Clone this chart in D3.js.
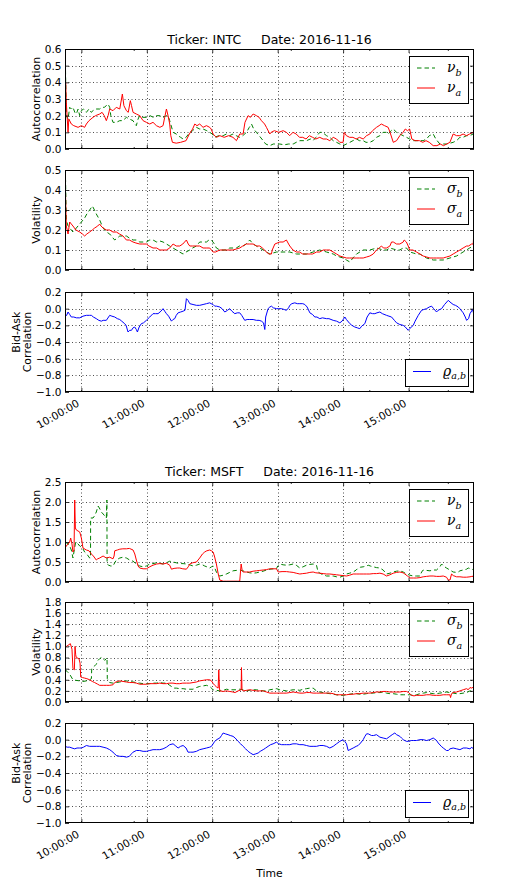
<!DOCTYPE html>
<html>
<head>
<meta charset="utf-8">
<script src="https://cdn.jsdelivr.net/npm/d3@7"></script>
<style>
  body { margin: 0; background: #fff; }
  svg text { font-family: "DejaVu Sans", sans-serif; fill: #000; }
  .math { font-family: "DejaVu Serif", serif; font-style: italic; }
</style>
</head>
<body>
<div id="chart"></div>
<script>
// ---------- data (time = minutes after session start) ----------
const tickers = ["INTC", "MSFT"];
const tradeDate = "2016-11-16";
const sessionStart = "09:45:00";
const sessionEnd = "16:00:00";
const hourTicks = ["10:00:00", "11:00:00", "12:00:00", "13:00:00", "14:00:00", "15:00:00"];
const minorTicks = ["10:48:00", "13:12:00", "14:24:00", "15:36:00"];

const autoTicksIntc = [0, 0.1, 0.2, 0.3, 0.4, 0.5, 0.6];
const volTicksIntc = [0, 0.1, 0.2, 0.3, 0.4, 0.5];
const corrTicks = [-1.0, -0.8, -0.6, -0.4, -0.2, 0.0, 0.2];
const autoTicksMsft = [0, 0.5, 1.0, 1.5, 2.0, 2.5];
const volTicksMsft = [0, 0.2, 0.4, 0.6, 0.8, 1.0, 1.2, 1.4, 1.6, 1.8];

const intcNuA = [[0,0.12],[0.6,0.40],[1.2,0.28],[2.8,0.10],[3.5,0.18],[5.8,0.15],[8,0.14],[12,0.13],[15,0.14],[18,0.13],[19.6,0.15],[22,0.17],[25.7,0.19],[28,0.2],[31.8,0.21],[34,0.22],[36,0.2],[37.9,0.17],[39.5,0.2],[41,0.24],[44,0.23],[47,0.25],[50.2,0.24],[52.6,0.33],[54,0.26],[56.3,0.23],[58,0.22],[59.9,0.29],[61,0.26],[62.4,0.22],[65.4,0.21],[68.5,0.2],[71.6,0.17],[74.6,0.16],[77.7,0.15],[80.7,0.16],[83.8,0.14],[87,0.13],[89.9,0.14],[91.4,0.19],[93,0.24],[94.5,0.2],[96,0.15],[97,0.08],[98.5,0.04],[102,0.035],[106,0.04],[111,0.05],[114,0.09],[117,0.12],[119,0.15],[121,0.14],[123.5,0.15],[126.6,0.13],[129.7,0.14],[132.7,0.13],[134,0.12],[135.8,0.09],[138.8,0.07],[142,0.08],[146,0.07],[150,0.08],[154,0.07],[157.2,0.05],[160.2,0.09],[163.3,0.09],[165,0.16],[167.9,0.2],[170,0.19],[172.5,0.21],[175.5,0.2],[178,0.19],[180.1,0.17],[183,0.15],[184.7,0.13],[187.8,0.09],[189,0.1],[192,0.11],[196,0.1],[200,0.11],[203,0.1],[206,0.08],[209,0.1],[212,0.09],[215,0.07],[218,0.07],[221,0.06],[224,0.08],[227,0.07],[230,0.06],[233.6,0.07],[236.7,0.06],[239.8,0.06],[242.8,0.05],[245.9,0.07],[249,0.06],[252,0.04],[255,0.04],[256,0.1],[258,0.08],[261,0.07],[264,0.07],[267,0.06],[270,0.07],[273.4,0.06],[276.5,0.08],[279.5,0.09],[282,0.11],[285.6,0.13],[288,0.14],[290,0.15],[293,0.14],[296.3,0.13],[298,0.1],[300,0.06],[301,0.04],[304,0.05],[307,0.08],[310,0.1],[312,0.12],[314,0.11],[316,0.12],[318,0.06],[321,0.05],[325,0.05],[328,0.04],[331,0.05],[334,0.04],[337.6,0.02],[341,0.02],[344,0.03],[347,0.02],[350,0.03],[352.9,0.04],[355.9,0.09],[359,0.08],[362,0.08],[365,0.09],[368,0.08],[371,0.09],[374,0.1],[374.6,0.1],[375,0.28]];
const intcNuB = [[0,0.12],[0.4,0.5],[1.2,0.2],[2.8,0.18],[4.3,0.25],[5.8,0.24],[7.3,0.25],[9,0.22],[10.4,0.21],[12,0.24],[13.5,0.2],[15,0.23],[17,0.24],[19.6,0.22],[22,0.24],[24,0.22],[25.7,0.23],[28,0.24],[31.8,0.24],[34,0.25],[36,0.25],[37.9,0.26],[39.4,0.27],[41,0.25],[42,0.2],[44,0.16],[47,0.16],[50.2,0.17],[53,0.17],[56.3,0.19],[59,0.18],[62.4,0.17],[64,0.15],[65.4,0.14],[67,0.18],[68.5,0.2],[71,0.19],[74.6,0.19],[78,0.2],[81,0.19],[84,0.2],[87,0.2],[90,0.19],[93,0.2],[94.5,0.2],[96,0.17],[99.1,0.1],[102,0.09],[103.7,0.08],[106,0.07],[108.3,0.06],[111,0.07],[114.4,0.1],[117,0.11],[120.5,0.13],[123.5,0.12],[126.6,0.12],[130,0.11],[132.7,0.1],[135,0.09],[137.3,0.07],[141,0.08],[145,0.08],[148,0.09],[151,0.08],[154,0.09],[157,0.08],[160.2,0.07],[163,0.08],[166.4,0.1],[169,0.13],[171,0.15],[173,0.12],[175.5,0.1],[178,0.08],[181.7,0.05],[184,0.03],[187.8,0.02],[191,0.03],[196.9,0.03],[201,0.025],[205,0.03],[209.2,0.03],[212,0.04],[215.3,0.05],[219,0.05],[221.4,0.05],[225,0.06],[227.5,0.05],[230,0.07],[233.6,0.1],[236,0.1],[239.8,0.08],[242.8,0.07],[245.9,0.05],[249,0.04],[252,0.03],[255,0.02],[258,0.03],[261.2,0.04],[264,0.05],[267.3,0.06],[270,0.05],[273.4,0.05],[276,0.04],[279.5,0.04],[282.6,0.05],[285.6,0.07],[288.7,0.08],[291.7,0.1],[294.8,0.1],[296.3,0.09],[299,0.11],[300.9,0.12],[304,0.1],[307,0.09],[310,0.08],[313.1,0.07],[316,0.06],[319.3,0.05],[322,0.05],[325.4,0.05],[328.4,0.05],[331.5,0.06],[334,0.08],[337.6,0.09],[340,0.06],[343.7,0.03],[347,0.03],[349.8,0.03],[353,0.035],[355.9,0.04],[359,0.05],[362.1,0.07],[365,0.07],[368.2,0.08],[371,0.08],[374.3,0.09],[375,0.09]];

const intcSigA = [[0,0.2],[0.5,0.38],[1.2,0.22],[2.8,0.18],[4.3,0.24],[5.8,0.23],[7.3,0.22],[10,0.2],[13.5,0.19],[16,0.18],[18,0.17],[20,0.18],[22.6,0.19],[25,0.2],[27.2,0.21],[30,0.22],[31.8,0.23],[33,0.22],[34.9,0.21],[38,0.2],[41,0.2],[44,0.19],[47.1,0.19],[50,0.18],[53.2,0.17],[56.3,0.15],[59,0.15],[62.4,0.14],[65,0.135],[68.5,0.13],[71,0.13],[74.6,0.13],[77,0.12],[80.7,0.11],[84,0.11],[87,0.1],[90,0.1],[93,0.1],[96,0.11],[99.1,0.13],[102,0.12],[105.2,0.12],[108,0.13],[111.3,0.15],[113,0.13],[114.4,0.12],[117,0.12],[120.5,0.12],[123.5,0.12],[126.6,0.11],[130,0.11],[132.7,0.11],[135.8,0.09],[138,0.09],[141.9,0.1],[145,0.1],[148,0.1],[151,0.1],[154.1,0.1],[157,0.105],[160.2,0.11],[163,0.12],[166.4,0.13],[169,0.13],[172.5,0.13],[175.5,0.12],[178.6,0.12],[181,0.11],[184.7,0.09],[187,0.08],[189.3,0.08],[190,0.1],[192.4,0.13],[196.9,0.14],[200,0.14],[203,0.15],[205,0.13],[206.1,0.12],[209,0.1],[212.2,0.09],[215,0.09],[218,0.08],[221.4,0.08],[225,0.08],[227,0.08],[230.6,0.09],[233.6,0.09],[236.7,0.1],[239.8,0.1],[242.8,0.1],[245.9,0.09],[249,0.08],[252,0.07],[255,0.065],[258.1,0.06],[261,0.06],[264.2,0.06],[267,0.06],[270,0.06],[273.4,0.06],[276.5,0.065],[279.5,0.07],[282.6,0.08],[285.6,0.1],[288,0.11],[290.2,0.12],[292,0.11],[294.8,0.11],[297.9,0.12],[299.4,0.14],[301,0.14],[304,0.13],[307,0.13],[310.1,0.14],[311,0.15],[313,0.14],[314.7,0.12],[316,0.1],[319,0.1],[322.3,0.09],[325.4,0.08],[328.4,0.07],[331.5,0.065],[334.6,0.06],[337.6,0.06],[340.7,0.06],[343.7,0.06],[346.8,0.06],[349.8,0.065],[352.9,0.07],[355.9,0.08],[359,0.09],[362.1,0.1],[365,0.11],[368.2,0.12],[370,0.12],[372.8,0.13],[374.3,0.13],[375,0.21]];
const intcSigB = [[0,0.25],[0.5,0.45],[1.2,0.25],[2.8,0.22],[4.3,0.21],[5.8,0.2],[7.3,0.19],[10.4,0.21],[13.5,0.23],[16.5,0.25],[18,0.26],[20,0.28],[22.6,0.3],[25.1,0.32],[27,0.3],[28.7,0.28],[31.8,0.25],[34.9,0.21],[38,0.19],[41,0.18],[44,0.16],[45.6,0.15],[48,0.16],[50.2,0.17],[53,0.17],[56.3,0.17],[59,0.16],[62.4,0.15],[65.4,0.15],[68.5,0.14],[71.6,0.14],[74.6,0.14],[77.7,0.15],[80.7,0.15],[84,0.14],[87,0.145],[89.9,0.14],[93,0.13],[96,0.12],[99,0.11],[102.1,0.1],[105,0.09],[108.3,0.08],[111,0.09],[114.4,0.1],[117,0.11],[120.5,0.12],[123.5,0.14],[126.6,0.14],[129.7,0.14],[132,0.15],[134.3,0.15],[137,0.13],[138.8,0.11],[142,0.1],[145,0.1],[148,0.1],[151,0.11],[154.1,0.11],[157,0.11],[160,0.12],[163.3,0.12],[166,0.13],[169.4,0.15],[172.5,0.13],[175.5,0.12],[178.6,0.11],[181.7,0.1],[184.7,0.09],[187.8,0.08],[190.8,0.085],[193.9,0.09],[196.9,0.09],[200,0.09],[203,0.09],[206.1,0.09],[209,0.085],[212.2,0.08],[215.3,0.08],[218.3,0.08],[221.4,0.08],[224.5,0.085],[227.5,0.09],[230.6,0.095],[233.6,0.1],[236.7,0.095],[239.8,0.09],[242.8,0.085],[245.9,0.08],[249,0.07],[252,0.065],[255,0.06],[258,0.05],[261.2,0.04],[264,0.06],[267.3,0.08],[270.3,0.09],[273.4,0.1],[276.5,0.1],[279.5,0.1],[282.6,0.105],[285.6,0.11],[288.7,0.105],[291.7,0.1],[294.8,0.1],[297.9,0.11],[301,0.105],[304,0.1],[307,0.1],[310.1,0.11],[313.1,0.11],[316.2,0.09],[319.3,0.085],[322.3,0.08],[325.4,0.08],[328.4,0.07],[331.5,0.06],[334.6,0.055],[337.6,0.05],[340.7,0.05],[343.7,0.05],[346.8,0.05],[349.8,0.055],[352.9,0.06],[355.9,0.065],[359,0.07],[362.1,0.08],[365,0.09],[368.2,0.1],[371,0.11],[374.3,0.12],[375,0.12]];

const intcRho = [[0,-0.1],[1.5,-0.08],[2.8,-0.04],[4.3,-0.07],[5.8,-0.1],[8,-0.1],[10.4,-0.11],[13.5,-0.11],[16.5,-0.09],[19.6,-0.08],[22.6,-0.08],[24.2,-0.08],[26,-0.1],[28.7,-0.12],[31,-0.14],[33.3,-0.15],[35,-0.14],[37.9,-0.14],[41,-0.08],[43,-0.09],[45.6,-0.1],[48,-0.12],[50.2,-0.13],[52,-0.15],[54.7,-0.18],[56,-0.2],[57.8,-0.28],[59.3,-0.26],[60.9,-0.26],[62.4,-0.23],[63.9,-0.22],[65.4,-0.25],[66.4,-0.28],[68,-0.22],[70,-0.18],[72,-0.17],[74.6,-0.14],[77.7,-0.1],[80.7,-0.06],[83,-0.06],[85.3,-0.06],[88,-0.03],[89.9,0.0],[91.4,-0.03],[93,-0.06],[95,-0.09],[97.6,-0.15],[99,-0.13],[100.6,-0.12],[102,-0.08],[103.7,-0.05],[106,-0.04],[108.3,-0.03],[110,-0.02],[111.3,0.12],[112.8,0.1],[114.4,0.06],[117.4,0.05],[120.5,0.04],[123.5,0.04],[126.6,0.05],[129.7,0.06],[132.7,0.07],[134,0.06],[135.8,0.05],[137.3,0.03],[139,0.03],[141.9,0.02],[144,0.0],[146.5,-0.04],[149,-0.02],[151,0.0],[153,-0.03],[155.7,-0.06],[158,-0.05],[160.2,-0.05],[162,-0.08],[164.8,-0.14],[167,-0.13],[169.4,-0.13],[172.5,-0.13],[175.5,-0.14],[178,-0.14],[180.1,-0.15],[182,-0.17],[183.2,-0.25],[184,-0.1],[186.2,0.0],[187.8,0.02],[189.3,0.03],[191,0.01],[193.9,0.0],[196,0.0],[198.5,0.0],[201,-0.01],[203,-0.02],[205,0.01],[206.1,0.04],[208,0.06],[210.7,0.07],[213,0.06],[215.3,0.06],[218,0.06],[219.9,0.05],[222,0.02],[224.5,-0.05],[227,-0.07],[229,-0.1],[231,-0.1],[233.6,-0.12],[236,-0.11],[239.8,-0.12],[242,-0.12],[245.9,-0.14],[249,-0.15],[252,-0.17],[254,-0.15],[256.6,-0.1],[258,-0.13],[261.2,-0.18],[263,-0.2],[265.7,-0.22],[268,-0.23],[270.3,-0.24],[272,-0.21],[274.9,-0.18],[277,-0.1],[279.5,-0.05],[282,-0.06],[284.1,-0.06],[286,-0.05],[288.7,-0.04],[291,-0.06],[294.8,-0.08],[297,-0.09],[299.4,-0.1],[302,-0.14],[304,-0.17],[307,-0.19],[310.1,-0.2],[312,-0.22],[314.7,-0.26],[316,-0.24],[319.3,-0.2],[321,-0.15],[323.9,-0.08],[326.9,-0.02],[329,-0.01],[331.5,0.0],[334,0.02],[336.1,0.03],[338,0.0],[340.7,-0.04],[342,-0.02],[345.3,0.0],[348,0.05],[351.4,0.1],[353,0.08],[355.9,0.05],[358,0.04],[360.6,0.02],[362,0.0],[365.1,-0.05],[367,-0.1],[368.2,-0.14],[370,-0.12],[371.3,-0.06],[373.7,-0.01],[374.5,-0.05],[375,-0.12]];

const msftNuA = [[0,0.85],[1.2,0.9],[2.8,0.95],[4.3,1.0],[5.2,1.1],[6.4,0.95],[7.3,0.75],[8.3,0.8],[8.9,2.05],[9.5,1.35],[10.4,1.3],[13.5,1.25],[15,1.1],[16.5,0.85],[19.6,0.8],[22,0.78],[24.2,0.7],[26,0.65],[28.7,0.55],[30,0.58],[31.8,0.6],[34.9,0.65],[37.9,0.6],[41,0.62],[44,0.58],[45,0.65],[45.6,0.78],[48,0.8],[50.2,0.82],[53,0.83],[56.3,0.83],[59,0.84],[62.4,0.8],[64,0.7],[65.4,0.55],[67,0.4],[68.5,0.35],[71.6,0.33],[74.6,0.33],[77.7,0.38],[80.7,0.42],[84,0.45],[87,0.46],[89.9,0.45],[93,0.47],[96,0.42],[97.6,0.32],[100,0.34],[103,0.35],[105.2,0.35],[108,0.33],[111.3,0.32],[113,0.38],[114.4,0.45],[117,0.48],[120.5,0.5],[123.5,0.6],[126,0.7],[128.1,0.75],[130,0.78],[132.7,0.8],[134.3,0.78],[135.8,0.75],[137,0.65],[138.8,0.45],[140.5,0.2],[141.9,0.05],[145,0.02],[148,0.02],[154.1,0.02],[158,0.02],[160.2,0.02],[161.5,0.45],[162.5,0.28],[163.3,0.25],[166,0.25],[169.4,0.25],[172.5,0.27],[175.5,0.28],[178.6,0.29],[181.7,0.3],[184.7,0.31],[187.8,0.33],[190.8,0.33],[193.9,0.33],[195.5,0.25],[199,0.26],[203,0.26],[206,0.25],[209.2,0.24],[212,0.22],[215.3,0.2],[218,0.21],[221.4,0.22],[224.5,0.24],[227.5,0.25],[230,0.23],[233.6,0.22],[236.7,0.21],[239.8,0.2],[242.8,0.2],[245.9,0.19],[249,0.18],[252,0.17],[255,0.16],[258.1,0.15],[261,0.17],[264.2,0.2],[267,0.2],[270.3,0.2],[273.4,0.2],[276.5,0.2],[279.5,0.2],[282.6,0.21],[285.6,0.21],[288.7,0.22],[291.7,0.2],[294.8,0.15],[297.9,0.18],[300.9,0.22],[304,0.24],[307,0.25],[310,0.23],[311.6,0.2],[314,0.15],[316.2,0.1],[319.3,0.1],[322.3,0.1],[325.4,0.11],[328.4,0.13],[331.5,0.14],[334.6,0.15],[337.6,0.15],[340.7,0.14],[343.7,0.14],[346.8,0.15],[349.8,0.12],[351.4,0.05],[353,0.05],[354.4,0.2],[356,0.16],[359,0.13],[362.1,0.13],[365.1,0.12],[368.2,0.12],[371.3,0.13],[373,0.14],[374.3,0.14],[375,0.25]];
const msftNuB = [[0,1.0],[1.2,0.98],[2.8,0.95],[4.3,0.9],[5.8,0.8],[7.3,0.6],[8.5,0.8],[9.8,1.0],[12,0.95],[13.5,0.9],[16,0.85],[18,0.75],[20,0.7],[22.6,0.6],[23.4,0.6],[23.5,1.6],[25.7,1.6],[27,1.65],[28.7,1.75],[30.3,1.9],[31.5,1.85],[33.3,1.75],[35,1.7],[36.5,1.65],[37.9,1.6],[38.4,2.05],[38.6,0.45],[40,0.42],[42,0.4],[44,0.4],[45.6,0.48],[47.1,0.55],[50.2,0.6],[53.2,0.62],[56.3,0.6],[59.3,0.55],[62.4,0.52],[65.4,0.45],[68.5,0.4],[71.6,0.38],[74.6,0.4],[77.7,0.45],[80.7,0.46],[83.8,0.48],[86.9,0.47],[89.9,0.45],[93,0.48],[96,0.52],[99,0.5],[102.1,0.48],[105.2,0.46],[108.3,0.46],[111.3,0.45],[114.4,0.43],[117.4,0.4],[120.5,0.42],[123.5,0.45],[126,0.43],[128.1,0.4],[130,0.38],[132.7,0.35],[134.3,0.38],[135.8,0.4],[137.3,0.35],[138.8,0.25],[140.4,0.18],[141.9,0.15],[145,0.17],[148,0.2],[151,0.24],[154.1,0.28],[157.2,0.29],[160.2,0.3],[163,0.28],[166.4,0.25],[169.4,0.23],[172.5,0.22],[175.5,0.23],[178.6,0.25],[181.7,0.27],[184.7,0.3],[188,0.32],[191,0.33],[193.9,0.33],[195,0.4],[196.9,0.45],[200,0.43],[203,0.42],[206.1,0.43],[209.2,0.45],[212,0.42],[215.3,0.35],[218.3,0.38],[221.4,0.42],[224.5,0.44],[227.5,0.45],[230.6,0.42],[232,0.25],[235,0.2],[239.8,0.15],[243,0.15],[245.9,0.15],[249,0.13],[252,0.12],[255,0.15],[258.1,0.2],[261,0.22],[264.2,0.25],[267,0.3],[268.8,0.35],[271,0.37],[273.4,0.38],[276.5,0.4],[278,0.42],[280,0.4],[282.6,0.38],[285.6,0.36],[288.7,0.35],[291.7,0.3],[294.8,0.2],[297.9,0.22],[300.9,0.25],[304,0.27],[307,0.28],[310.1,0.25],[313.1,0.2],[316.2,0.17],[319.3,0.15],[322.3,0.15],[325.4,0.15],[327,0.25],[328.4,0.3],[331.5,0.29],[334.6,0.28],[337.6,0.3],[340.7,0.3],[343.7,0.38],[345.3,0.45],[347,0.4],[349.8,0.35],[352.9,0.3],[355.9,0.25],[359,0.24],[360.6,0.25],[362.1,0.28],[365.1,0.3],[368.2,0.32],[369.7,0.35],[372,0.33],[375,0.3]];

const msftSigA = [[0,1.0],[1.2,1.0],[2.8,1.02],[4.9,1.05],[6.4,0.95],[7.3,0.6],[8.6,0.58],[9.2,1.0],[9.8,0.85],[10.4,0.8],[12.8,0.78],[13.8,0.7],[14.4,0.45],[16,0.44],[18,0.43],[20,0.42],[22.6,0.4],[25,0.37],[27.2,0.35],[30,0.32],[31.8,0.3],[35,0.3],[38,0.3],[41,0.3],[44,0.31],[45.6,0.35],[48,0.37],[50.2,0.38],[53.2,0.37],[56.3,0.36],[59.3,0.35],[62.4,0.35],[65.4,0.34],[68.5,0.32],[71.6,0.32],[74.6,0.32],[77.7,0.33],[80.7,0.33],[83.8,0.33],[86.9,0.34],[89.9,0.33],[93,0.33],[96,0.34],[99,0.34],[102,0.33],[105.2,0.33],[108,0.34],[111.3,0.34],[114.4,0.34],[117.4,0.35],[120.5,0.36],[123.5,0.38],[126.6,0.39],[129.7,0.4],[132.7,0.4],[134.3,0.38],[136,0.33],[137.3,0.3],[139,0.27],[140.4,0.25],[141,0.58],[141.6,0.25],[142,0.2],[145,0.19],[148,0.2],[151,0.19],[154,0.18],[156,0.17],[158.7,0.2],[161.5,0.22],[161.8,0.62],[162.3,0.22],[163.3,0.2],[166.4,0.21],[169.4,0.22],[172.5,0.21],[175.5,0.2],[178.6,0.2],[181.7,0.2],[184.7,0.18],[187.8,0.16],[190.8,0.16],[193.9,0.16],[196.9,0.16],[200,0.16],[203,0.16],[206.1,0.17],[209.2,0.18],[212.2,0.17],[215.3,0.16],[218.3,0.16],[221.4,0.17],[224.5,0.17],[227.5,0.16],[230.6,0.16],[233.6,0.16],[236.7,0.16],[239.8,0.16],[242.8,0.16],[245.9,0.15],[248.9,0.13],[252,0.13],[255,0.13],[258.1,0.13],[261.2,0.14],[264.2,0.14],[267.3,0.15],[270.3,0.15],[273.4,0.16],[276.5,0.16],[279.5,0.16],[282.6,0.17],[285.6,0.18],[288.7,0.18],[291.7,0.19],[294.8,0.19],[297.9,0.18],[300.9,0.18],[304,0.18],[307,0.18],[310.1,0.19],[313.1,0.19],[315,0.17],[317.7,0.12],[320,0.11],[322.3,0.12],[325.4,0.12],[328.4,0.12],[331.5,0.13],[334.6,0.13],[337.6,0.12],[340.7,0.12],[343.7,0.12],[346.8,0.13],[350,0.13],[352.9,0.13],[353.5,0.08],[354.4,0.15],[355.9,0.17],[359,0.18],[362.1,0.2],[365.1,0.22],[368.2,0.24],[369.7,0.22],[371.3,0.26],[373,0.25],[374.3,0.27],[375,0.27]];
const msftSigB = [[0,0.58],[2,0.55],[4.3,0.5],[5.8,0.45],[7.3,0.4],[10,0.39],[13.5,0.38],[16.5,0.37],[19.6,0.38],[22.6,0.4],[24.2,0.42],[24.5,0.6],[27.2,0.65],[28.7,0.68],[30.3,0.75],[31.8,0.78],[33.3,0.8],[35,0.78],[36.4,0.75],[37.9,0.78],[38.5,0.8],[38.8,0.42],[41,0.35],[44,0.34],[47.1,0.35],[50.2,0.36],[53.2,0.37],[56.3,0.38],[59.3,0.37],[62.4,0.36],[65.4,0.35],[68.5,0.34],[71.6,0.33],[74.6,0.33],[77.7,0.33],[80.7,0.34],[83.8,0.34],[86.9,0.35],[89.9,0.34],[93,0.34],[96,0.3],[97.6,0.28],[99.1,0.25],[102.1,0.25],[105.2,0.24],[108.3,0.24],[111.3,0.23],[114.4,0.23],[117.4,0.23],[120.5,0.26],[123.5,0.28],[126.6,0.29],[129.7,0.3],[132.7,0.28],[135.8,0.22],[138.8,0.21],[141.9,0.2],[145,0.21],[148,0.23],[151,0.22],[154.1,0.22],[157.2,0.22],[160.2,0.23],[163.3,0.22],[166.4,0.2],[169.4,0.21],[172.5,0.22],[175.5,0.22],[178.6,0.21],[181.7,0.2],[184.7,0.2],[187.8,0.22],[190.8,0.23],[193.9,0.24],[196.9,0.22],[200,0.21],[203,0.2],[206.1,0.21],[209.2,0.22],[212.2,0.22],[215.3,0.21],[218.3,0.23],[221.4,0.24],[224.5,0.25],[227.5,0.25],[230.6,0.2],[233.6,0.18],[236.7,0.17],[239.8,0.16],[242.8,0.15],[245.9,0.14],[249,0.13],[252,0.12],[255,0.12],[258.1,0.13],[261.2,0.14],[264.2,0.15],[267.3,0.15],[270.3,0.14],[273.4,0.14],[276.5,0.15],[279.5,0.16],[282.6,0.16],[285.6,0.17],[288.7,0.17],[291.7,0.18],[294.8,0.16],[297.9,0.15],[300.9,0.15],[304,0.14],[307,0.13],[310.1,0.13],[313.1,0.13],[316.2,0.13],[319.3,0.12],[322.3,0.13],[325.4,0.15],[328.4,0.16],[331.5,0.17],[334.6,0.16],[337.6,0.15],[340.7,0.15],[343.7,0.16],[346.8,0.17],[349.8,0.18],[352.9,0.17],[355.9,0.16],[359,0.15],[362.1,0.15],[365.1,0.16],[368.2,0.17],[371.3,0.2],[374.3,0.19],[375,0.19]];

const msftRho = [[0,-0.08],[2,-0.09],[4.3,-0.09],[6.4,-0.1],[8.9,-0.11],[11,-0.1],[13.5,-0.1],[15,-0.1],[17,-0.09],[19.6,-0.07],[22.6,-0.08],[25.7,-0.08],[28.7,-0.08],[31.8,-0.08],[34.9,-0.09],[37.9,-0.1],[41,-0.12],[43,-0.14],[45.6,-0.17],[47,-0.19],[50.2,-0.2],[53.2,-0.2],[56.3,-0.21],[59,-0.2],[60.9,-0.17],[62.4,-0.15],[65.4,-0.13],[68.5,-0.13],[71.6,-0.14],[74.6,-0.14],[77.7,-0.13],[80.7,-0.12],[83.8,-0.12],[86.9,-0.12],[89.9,-0.11],[93,-0.09],[96,-0.06],[99.1,-0.05],[101,-0.07],[103.7,-0.1],[106,-0.08],[108.3,-0.07],[111,-0.1],[112.8,-0.15],[115,-0.15],[117.4,-0.15],[120.5,-0.14],[123.5,-0.12],[126.6,-0.11],[129.7,-0.1],[132.7,-0.09],[134.3,-0.08],[137.3,-0.02],[139,0.0],[141.9,0.02],[143.5,0.05],[145,0.08],[147,0.07],[149.5,0.06],[151.5,0.05],[154.1,0.04],[156,0.02],[158.7,-0.02],[161,-0.05],[163.3,-0.08],[165.6,-0.11],[167.9,-0.14],[170,-0.16],[172.5,-0.18],[175,-0.17],[177.1,-0.16],[179,-0.14],[181.7,-0.12],[184,-0.1],[186.2,-0.08],[188.5,-0.06],[190.8,-0.05],[193.9,-0.03],[196,-0.05],[198.5,-0.06],[201,-0.06],[203,-0.06],[206.1,-0.06],[209,-0.05],[212.2,-0.05],[215.3,-0.06],[218.3,-0.06],[221.4,-0.07],[224.5,-0.08],[227.5,-0.08],[230.6,-0.08],[233.6,-0.07],[236.7,-0.07],[239.8,-0.08],[242.8,-0.1],[245.9,-0.08],[248.9,-0.05],[252,-0.02],[255,0.0],[256.5,-0.02],[258.1,-0.05],[259.6,-0.13],[261.2,-0.12],[264.2,-0.1],[267,-0.08],[268.8,-0.07],[271,-0.04],[273.4,0.0],[275,0.04],[276.5,0.07],[278,0.07],[281,0.05],[283,0.05],[285.6,0.06],[288.7,0.03],[291.7,0.02],[294.8,0.01],[297.9,0.04],[300,0.06],[302.4,0.08],[304,0.06],[307,0.04],[308.5,0.02],[310.1,0.0],[313,-0.02],[314.7,-0.02],[317.7,-0.01],[319.3,-0.01],[322.3,-0.01],[325.4,0.0],[328.4,0.0],[331.5,-0.01],[334.6,0.0],[337.6,0.02],[340.7,-0.01],[342.2,-0.04],[345,-0.08],[346.8,-0.1],[349.8,-0.13],[351.4,-0.13],[353,-0.11],[355.9,-0.1],[359,-0.11],[362.1,-0.12],[365.1,-0.1],[368.2,-0.1],[371.3,-0.11],[373,-0.09],[375,-0.12]];

// ---------- layout ----------
const width = 531, height = 893;
const plotLeft = 65, plotRight = 474, panelH = 100;

const parseClock = d3.timeParse("%H:%M:%S");
const t0 = parseClock(sessionStart);
const x = d3.scaleTime()
    .domain([t0, parseClock(sessionEnd)])
    .range([plotLeft, plotRight]);
const atMinute = m => new Date(t0.getTime() + m * 60000);

const GREEN = "#008000", RED = "#ff0000", BLUE = "#0000ff";

const panels = [
    { top: 49, ticks: autoTicksIntc, ylabel: ["Autocorrelation"], legend: "top",
      series: [{ data: intcNuB, color: GREEN, dash: true, sym: "ν", sub: "b" },
               { data: intcNuA, color: RED, sym: "ν", sub: "a" }] },
    { top: 170, ticks: volTicksIntc, ylabel: ["Volatility"], legend: "top",
      series: [{ data: intcSigB, color: GREEN, dash: true, sym: "σ", sub: "b" },
               { data: intcSigA, color: RED, sym: "σ", sub: "a" }] },
    { top: 292, ticks: corrTicks, ylabel: ["Bid-Ask", "Correlation"], legend: "bottom", xlabels: true,
      series: [{ data: intcRho, color: BLUE, sym: "ϱ", sub: "a,b" }] },
    { top: 482, ticks: autoTicksMsft, ylabel: ["Autocorrelation"], legend: "top",
      series: [{ data: msftNuB, color: GREEN, dash: true, sym: "ν", sub: "b" },
               { data: msftNuA, color: RED, sym: "ν", sub: "a" }] },
    { top: 602, ticks: volTicksMsft, ylabel: ["Volatility"], legend: "top",
      series: [{ data: msftSigB, color: GREEN, dash: true, sym: "σ", sub: "b" },
               { data: msftSigA, color: RED, sym: "σ", sub: "a" }] },
    { top: 723, ticks: corrTicks, ylabel: ["Bid-Ask", "Correlation"], legend: "bottom", xlabels: true,
      series: [{ data: msftRho, color: BLUE, sym: "ϱ", sub: "a,b" }] }
];

const svg = d3.select("#chart").append("svg")
    .attr("width", width)
    .attr("height", height);

const fmt = d3.format(".1f");

panels.forEach((p, i) => {
    const bottom = p.top + panelH;
    const y = d3.scaleLinear().domain(d3.extent(p.ticks)).range([bottom, p.top]);
    const g = svg.append("g");

    // grid
    g.selectAll(".gy").data(p.ticks.slice(1, -1)).join("line")
        .attr("x1", plotLeft).attr("x2", plotRight)
        .attr("y1", d => Math.round(y(d)) + 0.5).attr("y2", d => Math.round(y(d)) + 0.5)
        .attr("stroke", "#222").attr("stroke-width", 0.8).attr("stroke-dasharray", "1,2.5");
    g.selectAll(".gx").data(hourTicks).join("line")
        .attr("x1", d => Math.round(x(parseClock(d))) + 0.5).attr("x2", d => Math.round(x(parseClock(d))) + 0.5)
        .attr("y1", p.top).attr("y2", bottom)
        .attr("stroke", "#222").attr("stroke-width", 0.8).attr("stroke-dasharray", "1,2.5");

    // series
    const clipId = "clip" + i;
    svg.append("clipPath").attr("id", clipId).append("rect")
        .attr("x", plotLeft).attr("y", p.top).attr("width", plotRight - plotLeft).attr("height", panelH);
    const line = d3.line().x(d => x(atMinute(d[0]))).y(d => y(d[1]));
    p.series.forEach(s => {
        g.append("path")
            .attr("clip-path", `url(#${clipId})`)
            .attr("d", line(s.data))
            .attr("fill", "none")
            .attr("stroke", s.color)
            .attr("stroke-width", 1)
            .attr("stroke-linejoin", "round")
            .attr("stroke-dasharray", s.dash ? "4.5,3" : null);
    });

    // axes (inward ticks on all sides)
    g.append("g").attr("transform", `translate(${plotLeft},0)`)
        .call(d3.axisLeft(y).tickValues(p.ticks).tickSize(-4).tickPadding(3.5).tickFormat(fmt))
        .call(a => a.select(".domain").remove())
        .call(a => a.selectAll("text").attr("font-size", 10.5).attr("font-family", "DejaVu Sans"));
    g.append("g").attr("transform", `translate(${plotRight},0)`)
        .call(d3.axisRight(y).tickValues(p.ticks).tickSize(-4).tickFormat(""))
        .call(a => a.select(".domain").remove());
    g.append("g").attr("transform", `translate(0,${bottom})`)
        .call(d3.axisBottom(x).tickValues(hourTicks.map(parseClock)).tickSize(-4).tickFormat(""))
        .call(a => a.select(".domain").remove());
    g.append("g").attr("transform", `translate(0,${p.top})`)
        .call(d3.axisTop(x).tickValues(hourTicks.map(parseClock)).tickSize(-4).tickFormat(""))
        .call(a => a.select(".domain").remove());
    g.append("g").attr("transform", `translate(0,${bottom})`)
        .call(d3.axisBottom(x).tickValues(minorTicks.map(parseClock)).tickSize(-2).tickFormat(""))
        .call(a => a.select(".domain").remove());
    g.append("g").attr("transform", `translate(0,${p.top})`)
        .call(d3.axisTop(x).tickValues(minorTicks.map(parseClock)).tickSize(-2).tickFormat(""))
        .call(a => a.select(".domain").remove());
    g.selectAll(".tick line").attr("stroke", "#000").attr("stroke-width", 0.8);

    // frame
    g.append("rect")
        .attr("x", plotLeft + 0.5).attr("y", p.top + 0.5)
        .attr("width", plotRight - plotLeft - 1).attr("height", panelH - 1)
        .attr("fill", "none").attr("stroke", "#000").attr("stroke-width", 1);

    // rotated time labels
    if (p.xlabels) {
        g.selectAll(".xl").data(hourTicks).join("text")
            .attr("transform", d => `translate(${x(parseClock(d)) - 1.2},${bottom + 13.5}) rotate(-30)`)
            .attr("text-anchor", "end")
            .attr("font-size", 10.5)
            .text(d => d);
    }

    // y label
    const midY = p.top + panelH / 2;
    if (p.ylabel.length === 1) {
        g.append("text")
            .attr("transform", `translate(39.5,${midY}) rotate(-90)`)
            .attr("text-anchor", "middle")
            .attr("font-size", 11)
            .text(p.ylabel[0]);
    } else {
        const second = g.append("text")
            .attr("transform", `translate(31,${midY}) rotate(-90)`)
            .attr("text-anchor", "middle")
            .attr("font-size", 11)
            .text(p.ylabel[1]);
        const half = second.node().getComputedTextLength() / 2;
        g.append("text")
            .attr("transform", `translate(20,${midY - half}) rotate(-90)`)
            .attr("text-anchor", "end")
            .attr("font-size", 11)
            .text(p.ylabel[0]);
    }

    // legend
    const n = p.series.length;
    const boxH = 7 + 20 * n;
    const boxX = p.legend === "top" ? 409 : 405;
    const boxY = p.legend === "top" ? p.top + 6.5 : bottom - 6 - boxH;
    const lg = g.append("g");
    lg.append("rect")
        .attr("x", boxX + 0.5).attr("y", Math.round(boxY) + 0.5)
        .attr("width", 468 - boxX).attr("height", boxH)
        .attr("fill", "#fff").attr("stroke", "#000").attr("stroke-width", 1);
    p.series.forEach((s, k) => {
        const ey = boxY + 12.5 + 20 * k;
        const lx = boxX + 8;
        lg.append("line")
            .attr("x1", lx).attr("x2", lx + 18)
            .attr("y1", ey).attr("y2", ey)
            .attr("stroke", s.color).attr("stroke-width", 1)
            .attr("stroke-dasharray", s.dash ? "4.5,3" : null);
        const t = lg.append("text").attr("class", "math")
            .attr("x", lx + 30).attr("y", ey + 4)
            .attr("font-size", 14);
        t.append("tspan").text(s.sym);
        t.append("tspan").attr("dy", 3.5).attr("font-size", 9.5).text(s.sub);
    });
});

// titles
[[tickers[0], 44], [tickers[1], 476]].forEach(([tk, yy]) => {
    svg.append("text")
        .attr("x", (plotLeft + plotRight) / 2)
        .attr("y", yy)
        .attr("text-anchor", "middle")
        .attr("font-size", 12.5)
        .style("white-space", "pre")
        .text(`Ticker: ${tk}     Date: ${tradeDate}`);
});

svg.append("text")
    .attr("x", (plotLeft + plotRight) / 2)
    .attr("y", 877)
    .attr("text-anchor", "middle")
    .attr("font-size", 10.8)
    .text("Time");
</script>
</body>
</html>
